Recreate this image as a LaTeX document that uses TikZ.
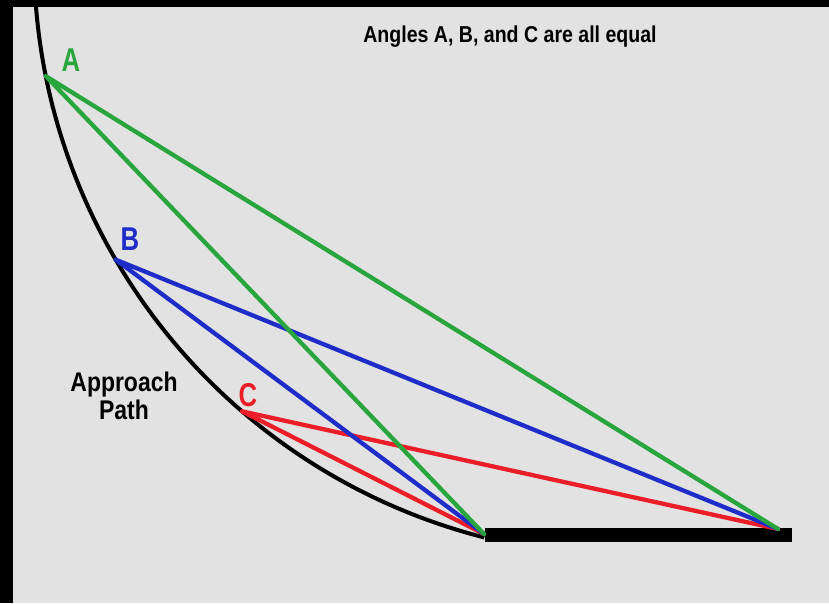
\documentclass[tikz,border=0pt]{standalone}
\usepackage{fontspec}
\newfontfamily\diagfont[FakeStretch=0.85]{Liberation Sans}
\newfontfamily\letterfont[FakeStretch=0.78]{Liberation Sans}
\definecolor{bggray}{RGB}{226,226,226}
\definecolor{angA}{RGB}{40,165,60}
\definecolor{angB}{RGB}{30,45,200}
\definecolor{angC}{RGB}{235,30,40}
\begin{document}
\begin{tikzpicture}[x=1pt,y=1pt,
  sight/.style={line width=4.3pt, line cap=round},
  ptlabel/.style={font=\letterfont\bfseries\fontsize{33}{33}\selectfont, inner sep=0pt}]
\useasboundingbox (0,0) rectangle (829,603);
\fill[bggray] (0,0) rectangle (829,603);
% approach path and runway
\coordinate (O) at (632,645);
\draw[line width=4pt] ([shift={(180:598)}]O) arc[start angle=180, end angle=255.7, radius=598];
\draw[line width=14pt] (485,68) -- (792,68);
\coordinate (A) at ([shift={(191.4:598)}]O);
\coordinate (B) at ([shift={(210.3:598)}]O);
\coordinate (C) at ([shift={(229.3:598)}]O);
\coordinate (P) at (484,69);
\coordinate (Q) at (778,74);
% lines of sight
\draw[sight, angC] (C) -- (P) (C) -- (Q);
\draw[sight, angB] (B) -- (P) (B) -- (Q);
\draw[sight, angA] (A) -- (P) (A) -- (Q);
\node[ptlabel, text=angA] (labA) at (71,543) {A};
\node[ptlabel, text=angB] (labB) at (130,364) {B};
\node[ptlabel, text=angC] (labC) at (248,208) {C};
\node[font=\diagfont\bfseries\fontsize{23}{23}\selectfont, anchor=base] (title) at (510,560) {Angles A, B, and C are all equal};
\node[font=\diagfont\bfseries\fontsize{27}{28}\selectfont, align=center] (path) at (124,207) {Approach\\Path};
% frame
\fill[black] (0,0) rectangle (13,603);
\fill[black] (0,596) rectangle (829,603);
\end{tikzpicture}
\end{document}
